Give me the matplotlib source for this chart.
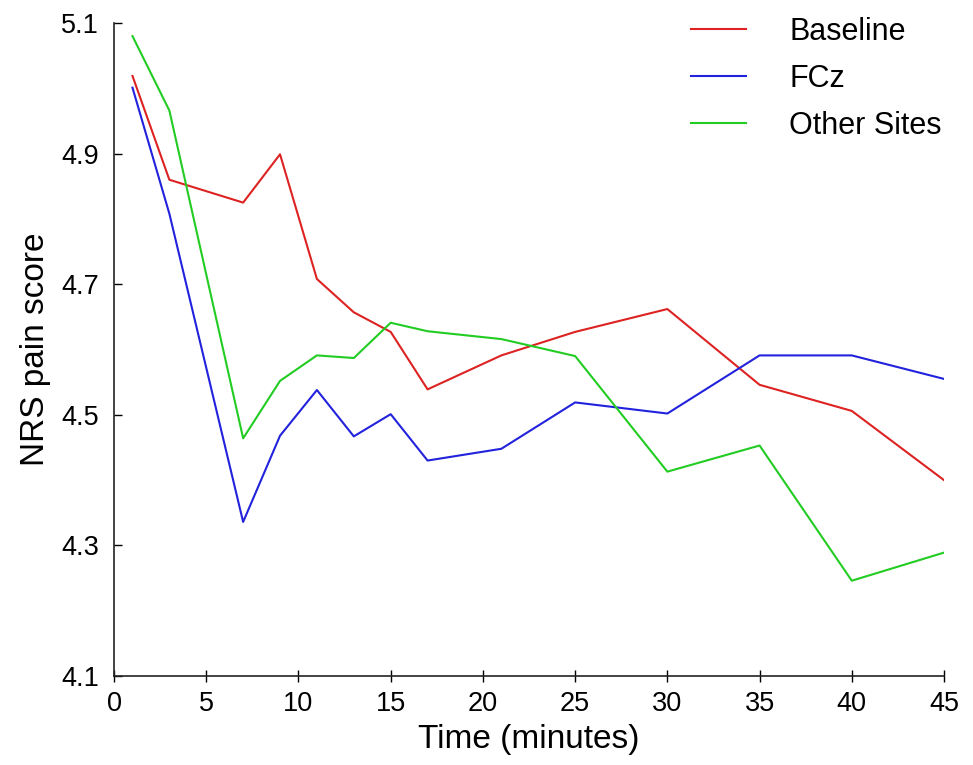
import matplotlib
matplotlib.use("Agg")
import matplotlib.pyplot as plt

plt.rcParams['font.family'] = ['Liberation Sans', 'DejaVu Sans']

time = [1, 3, 7, 9, 11, 13, 15, 17, 21, 25, 30, 35, 40, 45]
baseline = [5.019, 4.860, 4.825, 4.899, 4.708, 4.657, 4.627, 4.539, 4.591, 4.627, 4.662, 4.546, 4.506, 4.400]
fcz = [5.001, 4.808, 4.336, 4.468, 4.538, 4.467, 4.501, 4.430, 4.448, 4.519, 4.502, 4.591, 4.591, 4.555]
other = [5.080, 4.966, 4.464, 4.552, 4.591, 4.587, 4.641, 4.628, 4.616, 4.590, 4.413, 4.453, 4.246, 4.289]

xticks = [0, 5, 10, 15, 20, 25, 30, 35, 40, 45]
yticks = [4.1, 4.3, 4.5, 4.7, 4.9, 5.1]

fig = plt.figure(figsize=(9.73, 7.65), dpi=100)
ax = fig.add_axes([0.1172, 0.1163, 0.8530, 0.8536])

ax.plot(time, baseline, color='#dd2222', lw=1.5, label='Baseline')
ax.plot(time, fcz, color='#2222dd', lw=1.5, label='FCz')
ax.plot(time, other, color='#22cc22', lw=1.5, label='Other Sites')

ax.set_xlim(0, 45)
ax.set_ylim(4.1, 5.1)
ax.set_xticks(xticks)
ax.set_yticks(yticks)
ax.set_yticklabels([f'{v:.1f}' for v in yticks])
for s in ['top', 'right']:
    ax.spines[s].set_visible(False)
for s in ['left', 'bottom']:
    ax.spines[s].set_linewidth(1.2)
    ax.spines[s].set_color('#222222')
ax.tick_params(axis='x', direction='inout', length=8, width=1, labelsize=19.5, pad=7)
ax.tick_params(axis='y', direction='in', length=6, width=1, labelsize=19.5, pad=11)

ax.set_xlabel('Time (minutes)', fontsize=24, labelpad=5)
ax.set_ylabel('NRS pain score', fontsize=24, labelpad=7)

leg = ax.legend(loc='upper right', frameon=False, fontsize=22, handlelength=1.8,
                handletextpad=1.4, labelspacing=0.55, borderaxespad=0.0,
                bbox_to_anchor=(1.012, 1.028))

fig.savefig('out.png', dpi=100)
